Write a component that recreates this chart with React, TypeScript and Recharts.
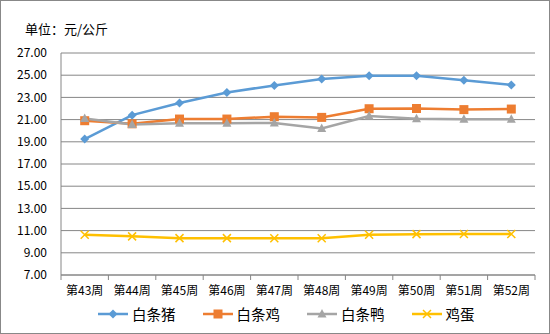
import { LineChart, Line, XAxis, YAxis, CartesianGrid } from "recharts"

const weeks = ["第43周", "第44周", "第45周", "第46周", "第47周", "第48周", "第49周", "第50周", "第51周", "第52周"]
const pork = [19.25, 21.4, 22.5, 23.45, 24.08, 24.66, 24.95, 24.95, 24.54, 24.12]
const chicken = [20.9, 20.62, 21.05, 21.05, 21.26, 21.2, 21.98, 22.0, 21.9, 21.95]
const duck = [21.1, 20.55, 20.68, 20.68, 20.7, 20.2, 21.32, 21.08, 21.03, 21.03]
const egg = [10.63, 10.48, 10.32, 10.32, 10.31, 10.31, 10.62, 10.68, 10.69, 10.69]
const yTicks = [7, 9, 11, 13, 15, 17, 19, 21, 23, 25, 27]

const series = [
  { key: "白条猪", values: pork, color: "#5B9BD5", shape: "diamond" },
  { key: "白条鸡", values: chicken, color: "#ED7D31", shape: "square" },
  { key: "白条鸭", values: duck, color: "#A5A5A5", shape: "triangle" },
  { key: "鸡蛋", values: egg, color: "#FFC000", shape: "x" },
]

const data = weeks.map((w, i) => {
  const row: Record<string, string | number> = { week: w }
  series.forEach((s) => (row[s.key] = s.values[i]))
  return row
})

const FONT = '"Noto Sans CJK SC", "Noto Sans", sans-serif'
const PLOT_LEFT = 61
const PLOT_RIGHT = 535
const BAND = (PLOT_RIGHT - PLOT_LEFT) / weeks.length

function marker(shape: string, color: string, cx: number, cy: number, key?: string | number) {
  if (shape === "diamond")
    return <path key={key} d={`M${cx},${cy - 4.5}L${cx + 4.5},${cy}L${cx},${cy + 4.5}L${cx - 4.5},${cy}Z`} fill={color} />
  if (shape === "square") return <rect key={key} x={cx - 4.5} y={cy - 4.5} width={9} height={9} fill={color} />
  if (shape === "triangle")
    return <path key={key} d={`M${cx},${cy - 5}L${cx + 4.5},${cy + 3.5}L${cx - 4.5},${cy + 3.5}Z`} fill={color} />
  return (
    <path
      key={key}
      d={`M${cx - 4},${cy - 4}L${cx + 4},${cy + 4}M${cx - 4},${cy + 4}L${cx + 4},${cy - 4}`}
      stroke={color}
      strokeWidth={1.5}
      fill="none"
    />
  )
}

function XTick(props: any) {
  const { x, y, payload, index } = props
  return (
    <g>
      <line x1={x - BAND / 2} y1={y} x2={x - BAND / 2} y2={y + 5} stroke="#868686" />
      {index === weeks.length - 1 && <line x1={x + BAND / 2} y1={y} x2={x + BAND / 2} y2={y + 5} stroke="#868686" />}
      <text x={x} y={y + 20} textAnchor="middle" fontSize={12} fill="#000" fontFamily={FONT}>
        {payload.value}
      </text>
    </g>
  )
}

export default function App() {
  return (
    <div
      style={{
        position: "absolute",
        left: 0,
        top: 0,
        width: 548,
        height: 332,
        border: "1px solid #888",
        background: "#fff",
        fontFamily: FONT,
      }}
    >
      <div style={{ position: "absolute", left: 24, top: 18, fontSize: 13, color: "#000" }}>单位：元/公斤</div>
      <div style={{ position: "absolute", left: -1, top: -1 }}>
        <LineChart width={550} height={334} data={data} margin={{ top: 53, right: 15, left: 0, bottom: 29 }}>
          <CartesianGrid vertical={false} stroke="#868686" />
          <XAxis
            dataKey="week"
            scale="band"
            axisLine={{ stroke: "#868686" }}
            tickLine={false}
            tickSize={0}
            tickMargin={0}
            interval={0}
            height={30}
            tick={<XTick />}
          />
          <YAxis
            domain={[7, 27]}
            ticks={yTicks}
            interval={0}
            width={61}
            axisLine={{ stroke: "#868686" }}
            tickLine={false}
            tickMargin={8}
            tickFormatter={(v: number) => v.toFixed(2)}
            tick={{ fontSize: 12, fill: "#000", fontFamily: FONT }}
          />
          {series.map((s) => (
            <Line
              key={s.key}
              dataKey={s.key}
              stroke={s.color}
              strokeWidth={2.5}
              isAnimationActive={false}
              dot={(p: any) => marker(s.shape, s.color, p.cx, p.cy, p.index)}
              activeDot={false}
            />
          ))}
        </LineChart>
      </div>
      <div style={{ position: "absolute", left: 97, top: 302, display: "flex", alignItems: "center" }}>
        {series.map((s) => (
          <div key={s.key} style={{ display: "flex", alignItems: "center", marginRight: 27 }}>
            <svg width={30} height={14}>
              <line x1={0} y1={7} x2={30} y2={7} stroke={s.color} strokeWidth={2.5} />
              {marker(s.shape, s.color, 15, 7)}
            </svg>
            <span style={{ fontSize: 14.5, marginLeft: 4, color: "#000" }}>{s.key}</span>
          </div>
        ))}
      </div>
    </div>
  )
}
